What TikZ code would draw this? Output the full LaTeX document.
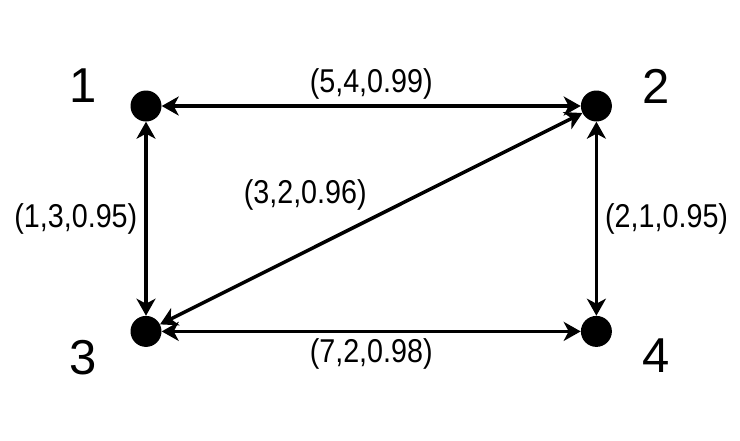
\documentclass[tikz,border=0pt]{standalone}
\usepackage{fontspec}
\setmainfont{Liberation Sans}
\newfontfamily\lblfont[FakeStretch=0.87]{Liberation Sans}
\usetikzlibrary{arrows.meta,positioning}

\begin{document}
\begin{tikzpicture}[
  x=1pt, y=-1pt,
  node distance=194pt and 419pt,
  dot/.style ={circle, fill=black, inner sep=0pt, minimum size=31pt},
  num/.style ={font=\fontsize{49pt}{52pt}\selectfont, inner sep=0pt},
  lbl/.style ={font=\lblfont\fontsize{33pt}{36pt}\selectfont, inner xsep=7pt, inner ysep=5pt},
  arr/.style ={{Stealth[length=17pt, width=19pt, inset=5pt]}-{Stealth[length=17pt, width=19pt, inset=5pt]}, line width=3.5pt, black},
]
  \useasboundingbox (0,0) rectangle (740,440);

  % vertices
  \node[dot]                 (n1) at (146,106) {};
  \node[dot, right=of n1]    (n2)              {};
  \node[dot, below=of n1]    (n3)              {};
  \node[dot, right=of n3]    (n4)              {};

  % vertex numbers
  \node[num, left=33pt of n1, yshift=20pt]  (l1) {1};
  \node[num, right=30pt of n2, yshift=20pt] (l2) {2};
  \node[num, left=33pt of n3, yshift=-26pt] (l3) {3};
  \node[num, right=30pt of n4, yshift=-24pt] (l4) {4};

  % edges
  \draw[arr] (n1) -- node[lbl, above] {(5,4,0.99)} (n2);
  \draw[arr] (n1) -- node[lbl, left]  {(1,3,0.95)} (n3);
  \draw[arr] (n2) -- node[lbl, right] {(2,1,0.95)} (n4);
  \draw[arr] (n3) -- node[lbl, below] {(7,2,0.98)} (n4);
  \draw[arr] (n3) -- node[lbl, above left, pos=0.51] {(3,2,0.96)} (n2);
\end{tikzpicture}
\end{document}
